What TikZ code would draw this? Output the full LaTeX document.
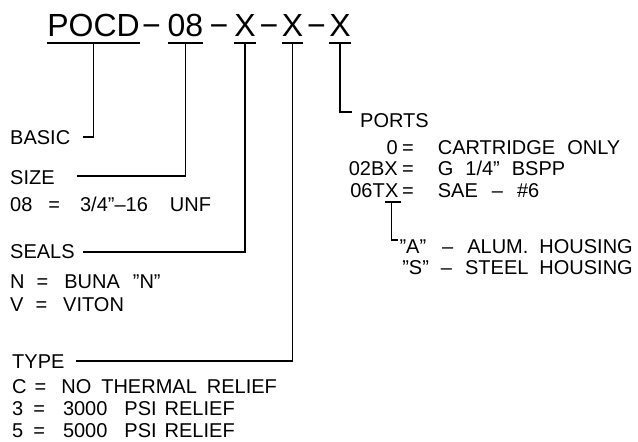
\documentclass[tikz,border=0pt]{standalone}
\usepackage{fontspec}
\setmainfont{Liberation Sans}
\usetikzlibrary{calc}
\newcommand\gp[1]{\hspace{#1pt}}
\tikzset{
  code/.style={anchor=base, inner sep=0pt, font=\fontsize{32}{36}\selectfont},
  lab/.style={anchor=base west, inner sep=0pt, font=\fontsize{20}{22}\selectfont},
  labr/.style={lab, anchor=base east},
  lead/.style={draw=black, line width=1.2pt},
}

\begin{document}
\begin{tikzpicture}[x=1pt,y=-1pt]
  \useasboundingbox (0,0) rectangle (638,442);
  % part number
  \node[code] (pocd) at (93.5,36) {POCD};
  \node[code] (d1) at (151.5,36) {−};
  \node[code] (size) at (185.5,36) {08};
  \node[code] (d2) at (219,36) {−};
  \node[code] (seal) at (245,36) {X};
  \node[code] (d3) at (269,36) {−};
  \node[code] (type) at (292.5,36) {X};
  \node[code] (d4) at (316.5,36) {−};
  \node[code] (port) at (340,36) {X};
  \foreach \N in {pocd,size,seal,type,port}
    \draw[lead] ($(\N.base west)+(0,7)$) -- ($(\N.base east)+(0,7)$);
  % left column
  \node[lab] (basic) at (10,144) {BASIC};
  \node[lab] (sizel) at (10,184) {SIZE};
  \node[lab] at (10,211) {08\gp{16}=\gp{20}3/4”–16\gp{22}UNF};
  \node[lab] (seals) at (10,258) {SEALS};
  \node[lab] at (10,288) {N\gp{12}=\gp{16}BUNA\gp{13}”N”};
  \node[lab] at (10,311) {V\gp{12}=\gp{16}VITON};
  \node[lab] (typel) at (12,368) {TYPE};
  \node[lab] at (12,393) {C\gp{8}=\gp{15}NO\gp{10}THERMAL\gp{10}RELIEF};
  \node[lab] at (12,415) {3\gp{10}=\gp{18}3000\gp{17}PSI\gp{8}RELIEF};
  \node[lab] at (12,437) {5\gp{10}=\gp{18}5000\gp{17}PSI\gp{8}RELIEF};
  \coordinate (basicend) at (83,137);
  \coordinate (sizeend) at (77,176);
  \coordinate (sealend) at (83,252);
  \coordinate (typeend) at (76,361);
  \draw[lead] ($(pocd.base)+(0,7)$) |- (basicend);
  \draw[lead] ($(size.base)+(0,7)$) |- (sizeend);
  \draw[lead] ($(seal.base)+(0,7)$) |- (sealend);
  \draw[lead] ($(type.base)+(0,7)$) |- (typeend);
  % ports
  \node[lab] (ports) at (360,127) {PORTS};
  \coordinate (portend) at (352,112);
  \draw[lead] ($(port.base)+(0,7)$) |- (portend);
  \node[labr] at (398,154) {0};
  \node[lab] at (402,154) {=\gp{24}CARTRIDGE\gp{12}ONLY};
  \node[labr] at (398,175) {02BX};
  \node[lab] at (402,175) {=\gp{24}G\gp{12}1/4”\gp{12}BSPP};
  \node[labr] (tx6) at (385,197) {06T};
  \node[lab] (txx) at (385,197) {X};
  \node[lab] at (402,197) {=\gp{24}SAE\gp{14}–\gp{14}\#6};
  \draw[lead] ($(txx.base west)+(0,5)$) -- ($(txx.base east)+(2,5)$);
  \coordinate (housend) at (398,240);
  \draw[lead] ($(txx.base)+(0,5)$) |- (housend);
  \node[labr] at (633,253) {”A”\gp{16}–\gp{14}ALUM.\gp{11}HOUSING};
  \node[labr] at (633,274) {”S”\gp{12}–\gp{13}STEEL\gp{11}HOUSING};
\end{tikzpicture}
\end{document}
